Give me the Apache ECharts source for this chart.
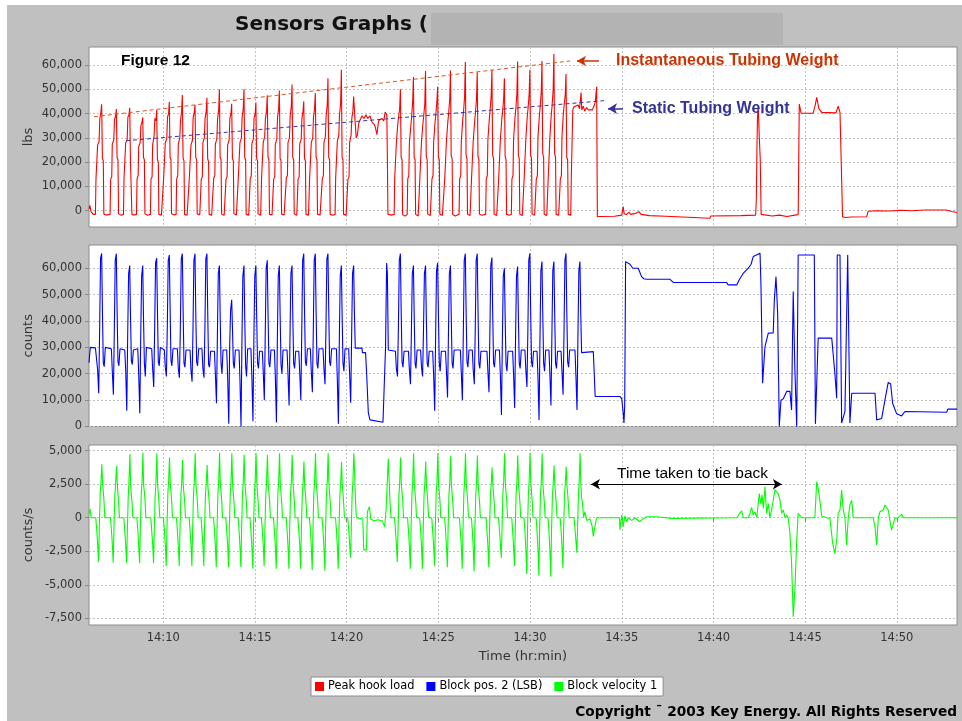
<!DOCTYPE html>
<html>
<head>
<meta charset="utf-8">
<title>Sensors Graphs</title>
<script src="https://cdn.jsdelivr.net/npm/echarts@6/dist/echarts.min.js"></script>
<style>
  html, body { margin: 0; padding: 0; background: #ffffff; }
  #frame { position: absolute; left: 7px; top: 5px; width: 955px; height: 716px; background: #c0c0c0; }
  #chart { position: absolute; left: 0; top: 0; width: 962px; height: 721px; }
</style>
</head>
<body>
<div id="frame"></div>
<div id="chart"></div>
<script>
// Time is expressed in minutes past 14:00.
const xTickMinutes = [10, 15, 20, 25, 30, 35, 40, 45, 50];
const hookLoadTicks = [0, 10000, 20000, 30000, 40000, 50000, 60000];
const blockPosTicks = [0, 10000, 20000, 30000, 40000, 50000, 60000];
const velocityTicks = [-7500, -5000, -2500, 0, 2500, 5000];

const seriesNames = ['Peak hook load', 'Block pos. 2 (LSB)', 'Block velocity 1'];

// Peak hook load (lbs)
const hookLoad = [
  [5.95,800],[6.00,2200],[6.06,-400],[6.18,-1500],
  [6.30,-1500],[6.33,13000],[6.39,13500],[6.42,27000],[6.50,28500],[6.54,38000],[6.60,40500],[6.64,43800],[6.68,21500],[6.73,20500],[6.76,-1400],[6.90,-1800],
  [7.10,-1500],[7.13,13000],[7.19,14000],[7.22,27500],[7.30,29000],[7.34,37500],[7.40,39000],[7.44,41900],[7.48,22000],[7.53,21000],[7.56,-1200],[7.70,-1900],
  [7.83,-1500],[7.86,13500],[7.92,14000],[7.95,28000],[8.03,29000],[8.07,38500],[8.13,39500],[8.17,42400],[8.21,21000],[8.26,20500],[8.29,-1500],[8.43,-1800],
  [8.54,-1500],[8.57,13000],[8.63,14500],[8.66,26500],[8.74,28000],[8.78,35000],[8.84,36500],[8.88,38400],[8.92,22000],[8.97,21000],[9.00,-1300],[9.14,-1900],
  [9.30,-1500],[9.33,13000],[9.39,14000],[9.42,27000],[9.50,31000],[9.54,38000],[9.60,37000],[9.64,41500],[9.68,21000],[9.73,20000],[9.76,-1500],[9.90,-1800],
  [9.99,-1500],[10.02,13500],[10.08,14000],[10.11,28000],[10.19,29500],[10.23,38500],[10.29,40000],[10.33,44800],[10.37,22000],[10.42,21000],[10.45,-1200],[10.59,-1800],
  [10.70,-1500],[10.73,13000],[10.79,14500],[10.82,27500],[10.90,30000],[10.94,37000],[11.00,41000],[11.04,47600],[11.08,21500],[11.13,20500],[11.16,-1500],[11.30,-1900],
  [11.39,-1500],[11.42,13500],[11.48,14000],[11.51,27000],[11.59,29000],[11.63,38500],[11.69,40500],[11.73,43500],[11.77,22000],[11.82,21000],[11.85,-1300],[11.99,-1700],
  [12.04,-1500],[12.07,13000],[12.13,14000],[12.16,28000],[12.24,30000],[12.28,38000],[12.34,41000],[12.38,46500],[12.42,21500],[12.47,20000],[12.50,-1500],[12.64,-1800],
  [12.72,-1500],[12.75,13500],[12.81,14500],[12.84,27500],[12.92,29500],[12.96,37500],[13.02,41500],[13.06,50000],[13.10,22000],[13.15,21000],[13.18,-1400],[13.32,-1900],
  [13.39,-1500],[13.42,13000],[13.48,14000],[13.51,27000],[13.59,29000],[13.63,38000],[13.69,40000],[13.73,44000],[13.77,21500],[13.82,20500],[13.85,-1200],[13.99,-1800],
  [14.06,-1500],[14.09,13500],[14.15,14000],[14.18,28000],[14.26,30000],[14.30,38500],[14.36,42000],[14.40,50000],[14.44,22000],[14.49,21000],[14.52,-1500],[14.66,-1800],
  [14.71,-1500],[14.74,13000],[14.80,14500],[14.83,27500],[14.91,29500],[14.95,38000],[15.01,40000],[15.05,44500],[15.09,21500],[15.14,20500],[15.17,-1300],[15.31,-1900],
  [15.33,-1500],[15.36,13500],[15.42,14000],[15.45,28000],[15.53,30500],[15.57,38000],[15.63,41000],[15.67,47500],[15.71,22000],[15.76,21000],[15.79,-1500],[15.93,-1700],
  [15.99,-1500],[16.02,13000],[16.08,14000],[16.11,27500],[16.19,29500],[16.23,38500],[16.29,42000],[16.33,49500],[16.37,21500],[16.42,20500],[16.45,-1400],[16.59,-1800],
  [16.68,-1500],[16.71,13500],[16.77,14500],[16.80,28000],[16.88,30000],[16.92,39000],[16.98,43000],[17.02,52000],[17.06,22000],[17.11,21000],[17.14,-1300],[17.28,-1900],
  [17.32,-1500],[17.35,13000],[17.41,14000],[17.44,27500],[17.52,29500],[17.56,38000],[17.62,41000],[17.66,45000],[17.70,21500],[17.75,20500],[17.78,-1500],[17.92,-1800],
  [17.95,-1500],[17.98,13500],[18.04,14000],[18.07,28000],[18.15,30000],[18.19,38500],[18.25,42000],[18.29,48500],[18.33,22000],[18.38,21000],[18.41,-1400],[18.55,-1800],
  [18.64,-1500],[18.67,13000],[18.73,14500],[18.76,28000],[18.84,30500],[18.88,39000],[18.94,43500],[18.98,54500],[19.02,22000],[19.07,21000],[19.10,-1500],[19.24,-1900],
  [19.37,-1500],[19.40,13500],[19.46,14000],[19.49,28500],[19.57,31000],[19.61,39500],[19.67,44000],[19.71,58000],[19.75,22000],[19.80,21000],[19.83,-1500],[19.97,-1800],
  [20.04,-1500],[20.07,13000],[20.13,14000],[20.16,28000],[20.24,31000],[20.28,38000],[20.34,41000],[20.38,47000],
  [20.45,38000],[20.52,30000],[20.58,31000],[20.66,36000],[20.74,37500],[20.83,39000],[20.95,38000],[21.05,39500],[21.15,38000],[21.27,39000],
  [21.38,36500],[21.50,35500],[21.56,34500],[21.65,31300],[21.74,37000],[21.92,38000],[22.02,37000],[22.10,40600],[22.19,39500],[22.22,21000],[22.25,-1500],[22.45,-1800],
  [22.59,-1500],[22.62,13500],[22.68,14000],[22.71,28000],[22.79,36000],[22.83,38500],[22.89,42000],[22.93,50000],[22.97,22000],[23.02,21000],[23.05,-1600],[23.19,-2200],
  [23.30,-1500],[23.33,13000],[23.39,14500],[23.42,28000],[23.50,35000],[23.54,38500],[23.60,45000],[23.64,55000],[23.68,22000],[23.73,21000],[23.76,-1500],[23.90,-2200],
  [23.96,-1500],[23.99,13500],[24.05,14000],[24.08,28500],[24.16,36000],[24.20,39000],[24.26,44000],[24.30,57500],[24.34,22500],[24.39,21000],[24.42,-1400],[24.56,-2000],
  [24.62,-1500],[24.65,13000],[24.71,14500],[24.74,28000],[24.82,36500],[24.86,39500],[24.92,45000],[24.96,51000],[25.00,22000],[25.05,21000],[25.08,-1500],[25.22,-1900],
  [25.32,-1500],[25.35,13500],[25.41,14000],[25.44,28500],[25.52,37000],[25.56,40000],[25.62,46000],[25.66,57700],[25.70,22500],[25.75,21500],[25.78,-1500],[25.92,-2200],
  [26.13,-1500],[26.16,13000],[26.22,14500],[26.25,28500],[26.33,37500],[26.37,40500],[26.43,47000],[26.47,61200],[26.51,23000],[26.56,21500],[26.59,-1500],[26.73,-2000],
  [26.78,-1500],[26.81,13500],[26.87,14000],[26.90,28500],[26.98,37000],[27.02,40000],[27.08,46000],[27.12,57000],[27.16,22500],[27.21,21000],[27.24,-1400],[27.38,-1900],
  [27.58,-1500],[27.61,13000],[27.67,14500],[27.70,29000],[27.78,38000],[27.82,41000],[27.88,47500],[27.92,58000],[27.96,23000],[28.01,21500],[28.04,-1500],[28.18,-2000],
  [28.26,-1500],[28.29,13500],[28.35,14000],[28.38,29000],[28.46,38000],[28.50,40500],[28.56,46000],[28.60,54500],[28.64,22500],[28.69,21000],[28.72,-1500],[28.86,-1900],
  [28.98,-1500],[29.01,13000],[29.07,14500],[29.10,29500],[29.18,38500],[29.22,41500],[29.28,48000],[29.32,61400],[29.36,23000],[29.41,21500],[29.44,-1500],[29.58,-2000],
  [29.65,-1500],[29.68,13500],[29.74,14000],[29.77,29500],[29.85,39000],[29.89,42000],[29.95,48000],[29.99,58000],[30.03,23000],[30.08,21500],[30.11,-1400],[30.25,-1900],
  [30.31,-1500],[30.34,13000],[30.40,14500],[30.43,30000],[30.51,39500],[30.55,42500],[30.61,49000],[30.65,61600],[30.69,23500],[30.74,22000],[30.77,-1500],[30.91,-2000],
  [30.96,-1500],[30.99,13500],[31.05,14000],[31.08,30000],[31.16,40000],[31.20,43000],[31.26,50000],[31.30,64500],[31.34,23500],[31.39,22000],[31.42,-1500],[31.56,-1900],
  [31.62,-1500],[31.65,13000],[31.71,14500],[31.74,30500],[31.82,40500],[31.86,43500],[31.92,48000],[31.96,56300],[32.00,22000],[32.05,21000],[32.08,-1500],[32.22,-1800],
  [32.25,14000],[32.29,28000],[32.33,41500],[32.40,42800],[32.50,42500],[32.62,43500],[32.70,42000],[32.78,48700],[32.82,41500],[32.90,43000],[32.98,41000],
  [33.08,42500],[33.18,41500],[33.28,42000],[33.40,41500],[33.48,43000],[33.55,44500],[33.63,51000],[33.67,-2500],
  [33.80,-2400],[34.60,-2300],[35.00,-1800],[35.08,1700],[35.13,-1200],[35.25,-1600],[35.40,-600],[35.48,-1500],[35.70,-1200],[35.94,-400],[36.05,-1500],
  [36.50,-2000],[37.40,-2300],[37.45,-3100],[39.81,-3100],[39.85,-2200],[41.50,-2000],[42.30,-1800],[42.34,5000],[42.37,25000],[42.40,38000],[42.44,43100],
  [42.50,30000],[42.55,21500],[42.60,-1500],[43.20,-2200],[43.60,-1800],[44.00,-2400],[44.62,-1600],[44.68,43900],[44.73,42000],[44.78,40100],[45.43,40100],
  [45.55,43500],[45.63,46700],[45.75,42000],[45.90,40500],[46.68,40300],[46.80,43000],[46.90,40500],[46.96,40000],[47.04,-2500],[47.20,-2800],[47.50,-2600],
  [48.35,-2500],[48.44,-200],[48.90,0],[49.00,300],[49.60,-100],[50.20,200],[50.80,0],[51.50,300],[52.70,300],[52.75,-500],[53.00,-300],[53.28,-700]
];

// Block position 2 (counts)
const blockPos = [
  [5.95,24200],[6.02,30000],[6.30,29800],
  [6.37,29500],[6.42,21500],[6.48,12600],[6.53,36600],[6.58,63800],[6.64,65600],[6.68,44800],[6.73,24000],[6.78,22700],[6.84,30000],
  [7.17,29500],[7.22,21000],[7.28,12000],[7.33,36000],[7.38,63000],[7.44,65500],[7.48,45000],[7.53,24500],[7.58,23000],[7.64,29500],
  [7.90,29000],[7.95,21500],[8.01,6000],[8.06,35000],[8.11,58000],[8.17,61000],[8.21,43000],[8.26,25000],[8.31,23500],[8.37,29000],
  [8.61,29500],[8.66,20000],[8.72,5000],[8.77,34000],[8.82,57000],[8.88,61000],[8.92,42000],[8.97,24000],[9.02,19000],[9.08,30000],
  [9.37,29500],[9.42,22000],[9.48,15000],[9.53,37000],[9.58,62000],[9.64,63800],[9.68,45000],[9.73,24500],[9.78,23000],[9.84,30000],
  [10.06,29000],[10.11,22500],[10.17,19000],[10.22,38000],[10.27,63000],[10.33,65000],[10.37,46000],[10.42,25000],[10.47,23000],[10.53,29500],
  [10.77,29500],[10.82,22000],[10.88,18500],[10.93,37000],[10.98,63500],[11.04,65500],[11.08,45000],[11.13,24000],[11.18,22500],[11.24,29000],
  [11.46,29000],[11.51,21500],[11.57,17000],[11.62,36500],[11.67,63000],[11.73,65500],[11.77,44000],[11.82,24500],[11.87,23000],[11.93,29500],
  [12.11,29500],[12.16,22000],[12.22,18500],[12.27,37000],[12.32,63500],[12.38,65500],[12.42,45000],[12.47,23500],[12.52,22500],[12.58,28500],
  [12.79,28500],[12.84,20000],[12.90,8800],[12.95,34000],[13.00,58000],[13.06,61000],[13.10,43000],[13.15,24000],[13.20,20000],[13.26,29000],
  [13.46,29000],[13.51,19000],[13.57,1000],[13.62,30000],[13.67,44000],[13.73,48000],[13.77,38000],[13.82,24000],[13.87,22000],[13.93,29000],
  [14.13,29000],[14.18,18000],[14.24,0],[14.29,33000],[14.34,57000],[14.40,61000],[14.44,42000],[14.49,23000],[14.54,19000],[14.60,29500],
  [14.78,29500],[14.83,19000],[14.89,2000],[14.94,33000],[14.99,57000],[15.05,61000],[15.09,43000],[15.14,24000],[15.19,22000],[15.25,28500],
  [15.40,28500],[15.45,21000],[15.51,10000],[15.56,35000],[15.61,60000],[15.67,63000],[15.71,44000],[15.76,24000],[15.81,22500],[15.87,29000],
  [16.06,29000],[16.11,19000],[16.17,1500],[16.22,33000],[16.27,57000],[16.33,61000],[16.37,43000],[16.42,23500],[16.47,20000],[16.53,29000],
  [16.75,29000],[16.80,20000],[16.86,8000],[16.91,34000],[16.96,58000],[17.02,61000],[17.06,43000],[17.11,24000],[17.16,22000],[17.22,28500],
  [17.39,28500],[17.44,20500],[17.50,10000],[17.55,35000],[17.60,63000],[17.66,65500],[17.70,45000],[17.75,24500],[17.80,23000],[17.86,29500],
  [18.02,29500],[18.07,21000],[18.13,13000],[18.18,36000],[18.23,63000],[18.29,65500],[18.33,45000],[18.38,24000],[18.43,22000],[18.49,29500],
  [18.71,29500],[18.76,22000],[18.82,16000],[18.87,37000],[18.92,63500],[18.98,65500],[19.02,45000],[19.07,24500],[19.12,23000],[19.18,29500],
  [19.44,29500],[19.49,18000],[19.55,1000],[19.60,33000],[19.65,57000],[19.71,61000],[19.75,43000],[19.80,24000],[19.85,21000],[19.91,29500],
  [20.11,29500],[20.16,20000],[20.22,9000],[20.27,34000],[20.32,58000],[20.38,61000],[20.42,44000],[20.47,29700],[20.83,29700],[20.86,28000],
  [21.03,28000],[21.09,20000],[21.18,5300],[21.27,2500],[21.33,1900],[21.98,1600],[22.07,1000],[22.12,30000],[22.18,62000],[22.22,58000],[22.27,29000],[22.35,28500],
  [22.66,28500],[22.71,22000],[22.77,19000],[22.82,37000],[22.87,63000],[22.93,65500],[22.97,45000],[23.02,24500],[23.07,22500],[23.13,28500],
  [23.37,28500],[23.42,21500],[23.48,16000],[23.53,36000],[23.58,58000],[23.64,61000],[23.68,43000],[23.73,24000],[23.78,22000],[23.84,29000],
  [24.03,29000],[24.08,22500],[24.14,19000],[24.19,37000],[24.24,58000],[24.30,61000],[24.34,43000],[24.39,24000],[24.44,22500],[24.50,28500],
  [24.69,28500],[24.74,20000],[24.80,6000],[24.85,34000],[24.90,59000],[24.96,62000],[25.00,44000],[25.05,24000],[25.10,21000],[25.16,28500],
  [25.39,28500],[25.44,21000],[25.50,11000],[25.55,35000],[25.60,58000],[25.66,61000],[25.70,43000],[25.75,24000],[25.80,22000],[25.86,29000],
  [26.20,29000],[26.25,20500],[26.31,10000],[26.36,35000],[26.41,63000],[26.47,65500],[26.51,45000],[26.56,24500],[26.61,22500],[26.67,29000],
  [26.85,29000],[26.90,21500],[26.96,16000],[27.01,36000],[27.06,63000],[27.12,65500],[27.16,45000],[27.21,24000],[27.26,22000],[27.32,28500],
  [27.65,28500],[27.70,21000],[27.76,13000],[27.81,36000],[27.86,61000],[27.92,64000],[27.96,44000],[28.01,24000],[28.06,22500],[28.12,29000],
  [28.33,29000],[28.38,19500],[28.44,4400],[28.49,33000],[28.54,57000],[28.60,60000],[28.64,42000],[28.69,23500],[28.74,21000],[28.80,28500],
  [29.05,28500],[29.10,20000],[29.16,7000],[29.21,34000],[29.26,57000],[29.32,60600],[29.36,43000],[29.41,24000],[29.46,22000],[29.52,29000],
  [29.72,29000],[29.77,21500],[29.83,15000],[29.88,36000],[29.93,63000],[29.99,65600],[30.03,45000],[30.08,24500],[30.13,22500],[30.19,28500],
  [30.38,28500],[30.43,19000],[30.49,2500],[30.54,33000],[30.59,59000],[30.65,62500],[30.69,44000],[30.74,24000],[30.79,21000],[30.85,29000],
  [31.03,29000],[31.08,20000],[31.14,8000],[31.19,34000],[31.24,59000],[31.30,62500],[31.34,44000],[31.39,24000],[31.44,22000],[31.50,28500],
  [31.69,28500],[31.74,21000],[31.80,12000],[31.85,35000],[31.90,63000],[31.96,65600],[32.00,45000],[32.05,24500],[32.10,22500],[32.16,29000],
  [32.45,29000],[32.50,19500],[32.56,6300],[32.61,34000],[32.66,59000],[32.72,62500],[32.76,44000],[32.81,28000],[32.88,28400],[33.45,28400],
  [33.50,20000],[33.55,11400],[34.90,11400],[35.00,10500],[35.08,5000],[35.12,1300],[35.16,8000],[35.21,62500],[35.30,62000],[35.45,61500],
  [35.60,60000],[35.90,60000],[36.08,56800],[36.20,56000],[36.36,55800],[37.63,55800],[37.81,54600],[40.72,54600],[40.79,53700],[41.28,53700],
  [41.40,55500],[41.62,58000],[41.90,60000],[42.05,61500],[42.17,64400],[42.54,65700],[42.59,53700],[42.68,16400],[42.75,16000],[42.81,30300],
  [42.99,35400],[43.26,35500],[43.32,48000],[43.41,56800],[43.50,43000],[43.59,0],[43.68,10000],[43.81,10500],[43.99,13300],[44.17,13300],
  [44.26,6300],[44.30,27800],[44.35,51200],[44.44,21500],[44.54,0],[44.62,65000],[45.50,65000],[45.56,1000],[45.71,33500],[46.45,33500],
  [46.62,20200],[46.72,10700],[46.75,65000],[46.90,65000],[46.99,1300],[47.17,5700],[47.32,65000],[47.44,1300],[47.54,12600],[48.81,12600],
  [48.90,2500],[49.17,3000],[49.35,10000],[49.53,16700],[49.66,16200],[49.77,8800],[49.99,4800],[50.26,4000],[50.44,5700],[50.53,5400],
  [52.72,5400],[52.78,6600],[53.28,6600]
];

// Block velocity 1 (counts/s)
const blockVelocity = [
  [5.95,300],[5.98,450],[6.02,650],[6.06,0],
  [6.32,0],[6.37,-900],[6.42,-1900],[6.47,-3300],[6.51,-900],[6.56,1800],[6.60,2600],[6.65,3980],[6.69,2560],[6.73,1940],[6.77,1200],[6.81,0],
  [7.12,0],[7.17,-900],[7.22,-1900],[7.27,-3350],[7.31,-900],[7.36,1700],[7.40,2500],[7.45,3860],[7.49,2600],[7.53,1800],[7.57,1000],[7.61,0],
  [7.85,0],[7.90,-1000],[7.95,-2000],[8.00,-3350],[8.04,-1000],[8.09,1600],[8.13,2700],[8.18,4750],[8.22,2500],[8.26,1700],[8.30,1100],[8.34,0],
  [8.56,0],[8.61,-900],[8.66,-2100],[8.71,-3400],[8.75,-800],[8.80,1800],[8.84,2600],[8.89,4850],[8.93,2400],[8.97,1900],[9.01,1200],[9.05,0],
  [9.32,0],[9.37,-1000],[9.42,-1900],[9.47,-3400],[9.51,-900],[9.56,1700],[9.60,2600],[9.65,4800],[9.69,2500],[9.73,1800],[9.77,1000],[9.81,0],
  [10.01,0],[10.06,-900],[10.11,-2000],[10.16,-3600],[10.20,-900],[10.25,1800],[10.29,2700],[10.34,4500],[10.38,2600],[10.42,1900],[10.46,1200],[10.50,0],
  [10.72,0],[10.77,-1000],[10.82,-2100],[10.87,-3600],[10.91,-1000],[10.96,1700],[11.00,2500],[11.05,4300],[11.09,2400],[11.13,1800],[11.17,1100],[11.21,0],
  [11.41,0],[11.46,-900],[11.51,-2000],[11.56,-3600],[11.60,-900],[11.65,1800],[11.69,2600],[11.74,4800],[11.78,2500],[11.82,1900],[11.86,1200],[11.90,0],
  [12.06,0],[12.11,-1000],[12.16,-2000],[12.21,-3600],[12.25,-800],[12.30,1700],[12.34,2500],[12.39,3930],[12.43,2400],[12.47,1800],[12.51,1000],[12.55,0],
  [12.74,0],[12.79,-900],[12.84,-2100],[12.89,-3700],[12.93,-900],[12.98,1800],[13.02,2700],[13.07,4850],[13.11,2600],[13.15,1900],[13.19,1200],[13.23,0],
  [13.41,0],[13.46,-1000],[13.51,-2000],[13.56,-3700],[13.60,-900],[13.65,1700],[13.69,2600],[13.74,4800],[13.78,2500],[13.82,1800],[13.86,1100],[13.90,0],
  [14.08,0],[14.13,-900],[14.18,-2100],[14.23,-3700],[14.27,-1000],[14.32,1800],[14.36,2600],[14.41,4700],[14.45,2500],[14.49,1900],[14.53,1200],[14.57,0],
  [14.73,0],[14.78,-1000],[14.83,-2100],[14.88,-3800],[14.92,-900],[14.97,1800],[15.01,2700],[15.06,4800],[15.10,2600],[15.14,1800],[15.18,1100],[15.22,0],
  [15.35,0],[15.40,-900],[15.45,-2000],[15.50,-3600],[15.54,-900],[15.59,1700],[15.63,2600],[15.68,4700],[15.72,2500],[15.76,1900],[15.80,1200],[15.84,0],
  [16.01,0],[16.06,-1000],[16.11,-2100],[16.16,-3800],[16.20,-1000],[16.25,1800],[16.29,2700],[16.34,4800],[16.38,2500],[16.42,1800],[16.46,1100],[16.50,0],
  [16.70,0],[16.75,-900],[16.80,-2100],[16.85,-3800],[16.89,-900],[16.94,1800],[16.98,2600],[17.03,4700],[17.07,2600],[17.11,1900],[17.15,1200],[17.19,0],
  [17.34,0],[17.39,-1000],[17.44,-2000],[17.49,-3800],[17.53,-900],[17.58,1700],[17.62,2500],[17.67,4200],[17.71,2400],[17.75,1800],[17.79,1000],[17.83,0],
  [17.97,0],[18.02,-900],[18.07,-2100],[18.12,-3900],[18.16,-1000],[18.21,1800],[18.25,2700],[18.30,4800],[18.34,2600],[18.38,1900],[18.42,1200],[18.46,0],
  [18.66,0],[18.71,-1000],[18.76,-2200],[18.81,-3950],[18.85,-900],[18.90,1800],[18.94,2600],[18.99,4800],[19.03,2500],[19.07,1800],[19.11,1100],[19.15,0],
  [19.39,0],[19.44,-900],[19.49,-2100],[19.54,-3800],[19.58,-900],[19.63,1700],[19.67,2500],[19.72,4150],[19.76,2400],[19.80,1800],[19.84,1000],[19.88,0],
  [20.06,0],[20.11,-900],[20.16,-1900],[20.21,-3000],[20.25,-900],[20.30,1800],[20.34,2600],[20.39,4800],
  [20.43,3560],[20.48,1320],[20.53,0],[20.88,-100],[20.93,-2400],[21.08,-2400],[21.13,450],[21.24,820],[21.31,-100],[21.50,-250],[21.70,-150],
  [21.95,-250],[22.07,-670],[22.15,600],[22.21,2500],[22.27,4400],[22.31,3000],[22.36,1300],[22.42,0],
  [22.61,0],[22.66,-900],[22.71,-2000],[22.76,-3300],[22.80,-900],[22.85,1700],[22.89,2600],[22.94,4500],[22.98,2500],[23.02,1900],[23.06,1200],[23.10,0],
  [23.32,0],[23.37,-1000],[23.42,-2100],[23.47,-3800],[23.51,-900],[23.56,1800],[23.60,2700],[23.65,4800],[23.69,2600],[23.73,1800],[23.77,1100],[23.81,0],
  [23.98,0],[24.03,-900],[24.08,-2100],[24.13,-3800],[24.17,-1000],[24.22,1700],[24.26,2500],[24.31,4200],[24.35,2400],[24.39,1800],[24.43,1000],[24.47,0],
  [24.64,0],[24.69,-1000],[24.74,-2000],[24.79,-3600],[24.83,-900],[24.88,1800],[24.92,2600],[24.97,4800],[25.01,2500],[25.05,1900],[25.09,1200],[25.13,0],
  [25.34,0],[25.39,-900],[25.44,-2100],[25.49,-3700],[25.53,-900],[25.58,1800],[25.62,2600],[25.67,4600],[25.71,2500],[25.75,1800],[25.79,1100],[25.83,0],
  [26.15,0],[26.20,-1000],[26.25,-2100],[26.30,-3800],[26.34,-1000],[26.39,1800],[26.43,2700],[26.48,4800],[26.52,2600],[26.56,1900],[26.60,1200],[26.64,0],
  [26.80,0],[26.85,-900],[26.90,-2200],[26.95,-4000],[26.99,-900],[27.04,1700],[27.08,2600],[27.13,4650],[27.17,2500],[27.21,1800],[27.25,1100],[27.29,0],
  [27.60,0],[27.65,-1000],[27.70,-2100],[27.75,-3700],[27.79,-900],[27.84,1700],[27.88,2500],[27.93,3750],[27.97,2400],[28.01,1800],[28.05,1000],[28.09,0],
  [28.28,0],[28.33,-900],[28.38,-1900],[28.43,-3000],[28.47,-900],[28.52,1800],[28.56,2700],[28.61,4800],[28.65,2600],[28.69,1900],[28.73,1200],[28.77,0],
  [29.00,0],[29.05,-1000],[29.10,-2100],[29.15,-3600],[29.19,-900],[29.24,1800],[29.28,2600],[29.33,4650],[29.37,2500],[29.41,1800],[29.45,1100],[29.49,0],
  [29.67,0],[29.72,-1000],[29.77,-2300],[29.82,-4200],[29.86,-1000],[29.91,1800],[29.95,2700],[30.00,4850],[30.04,2600],[30.08,1900],[30.12,1200],[30.16,0],
  [30.33,0],[30.38,-1000],[30.43,-2300],[30.48,-4300],[30.52,-1000],[30.57,1800],[30.61,2600],[30.66,4800],[30.70,2500],[30.74,1800],[30.78,1100],[30.82,0],
  [30.98,0],[31.03,-1000],[31.08,-2400],[31.13,-4400],[31.17,-1000],[31.22,1700],[31.26,2500],[31.31,3900],[31.35,2400],[31.39,1800],[31.43,1000],[31.47,0],
  [31.64,0],[31.69,-900],[31.74,-2100],[31.79,-3750],[31.83,-900],[31.88,1700],[31.92,2500],[31.97,3800],[32.01,2400],[32.05,1800],[32.09,1000],[32.13,0],
  [32.40,0],[32.45,-800],[32.50,-1700],[32.55,-2600],[32.59,-800],[32.64,1800],[32.68,2700],[32.73,4800],[32.77,2500],[32.81,1500],[32.85,1200],[32.92,0],
  [32.99,450],[33.09,-200],[33.27,-100],[33.38,-600],[33.45,-1400],[33.50,-1000],[33.54,-600],[33.63,0],[34.88,0],[34.90,-920],[35.00,200],
  [35.08,-670],[35.17,130],[35.27,-300],[35.35,0],[35.54,-200],[35.72,0],[35.99,-300],[36.17,-70],[36.36,75],[36.90,75],[37.00,0],[37.72,-50],
  [37.80,0],[41.27,0],[41.45,370],[41.54,520],[41.62,0],[41.90,0],[41.99,300],[42.08,770],[42.17,200],[42.26,450],[42.36,0],[42.50,1800],
  [42.58,1050],[42.65,1700],[42.72,700],[42.81,2300],[42.90,330],[42.99,1050],[43.08,0],[43.17,580],[43.26,1300],[43.35,2100],[43.45,2100],
  [43.53,1800],[43.63,1300],[43.72,330],[43.81,580],[43.90,0],[43.99,200],[44.08,-60],[44.17,-1170],[44.26,-3400],[44.35,-7390],[44.44,-5400],
  [44.54,-1700],[44.62,330],[44.72,450],[44.81,0],[45.53,0],[45.63,2690],[45.71,2190],[45.81,1200],[45.90,130],[46.17,0],[46.35,-50],
  [46.50,-1900],[46.62,-2660],[46.72,-1700],[46.80,330],[46.90,580],[46.99,2060],[47.08,580],[47.17,0],[47.26,-2040],[47.35,0],[47.44,950],
  [47.54,1300],[47.62,0],[48.71,0],[48.81,-700],[48.90,-2040],[48.99,0],[49.08,450],[49.26,580],[49.35,950],[49.44,1000],[49.53,580],
  [49.62,-170],[49.71,-920],[49.80,-800],[49.89,-50],[49.99,-170],[50.08,0],[50.26,270],[50.35,0],[53.28,0]
];

// Trend guides drawn over the hook-load panel
const instantaneousTrend = [[6.22, 38700], [32.18, 61650]];
const staticTrend = [[7.97, 28830], [34.03, 45300]];
const instantaneousPointer = [[33.76, 61650], [32.56, 61650]];
const staticPointer = [[35.07, 42000], [34.25, 42000]];
const tieBackSpan = [[33.32, 2500], [43.73, 2500]];

const X_MIN = 5.95, X_MAX = 53.28;
const FONT = '"DejaVu Sans", sans-serif';
const ARIAL = '"Liberation Sans", Arial, sans-serif';

const grids = [
  { left: 89, top: 47, width: 868, height: 180 },
  { left: 89, top: 245, width: 868, height: 181.5 },
  { left: 89, top: 445, width: 868, height: 180 }
].map(g => Object.assign(g, {
  show: true, backgroundColor: '#ffffff', borderColor: '#8c8c8c', borderWidth: 1, containLabel: false
}));

const gridLine = { show: true, lineStyle: { color: '#c2c2c2', width: 1, type: [2, 2] } };

function pad2(v) { return (v < 10 ? '0' : '') + v; }

function xAxisFor(gridIndex, withLabels) {
  return {
    type: 'value', gridIndex: gridIndex, min: X_MIN, max: X_MAX,
    axisLine: { show: false },
    axisTick: { show: withLabels, customValues: xTickMinutes, length: 4, lineStyle: { color: '#888' } },
    axisLabel: {
      show: withLabels, customValues: xTickMinutes, margin: 7,
      formatter: v => '14:' + pad2(Math.round(v)),
      color: '#333', fontSize: 11.5, fontFamily: FONT
    },
    splitLine: gridLine,
    name: withLabels ? 'Time (hr:min)' : '',
    nameLocation: 'middle', nameGap: 25, nameMoveOverlap: false,
    nameTextStyle: { color: '#333', fontSize: 13, fontFamily: FONT }
  };
}

function yAxisFor(gridIndex, min, max, ticks, name) {
  return {
    type: 'value', gridIndex: gridIndex, min: min, max: max,
    axisLine: { show: false },
    axisTick: { show: true, customValues: ticks, length: 4, lineStyle: { color: '#888' } },
    axisLabel: {
      customValues: ticks, margin: 7,
      formatter: v => v.toLocaleString('en-US'),
      color: '#333', fontSize: 11.5, fontFamily: FONT
    },
    splitLine: gridLine,
    name: name, nameLocation: 'middle', nameGap: 54, nameMoveOverlap: false,
    nameTextStyle: { color: '#333', fontSize: 13, fontFamily: FONT }
  };
}

function pointer(points, color) {
  return {
    silent: true, animation: false,
    symbol: ['none', 'arrow'], symbolSize: [8, 9],
    label: { show: false },
    lineStyle: { color: color, width: 1.5, type: 'solid' },
    emphasis: { disabled: true },
    data: [[{ coord: points[0] }, { coord: points[1] }]]
  };
}

const option = {
  animation: false,
  textStyle: { fontFamily: FONT },
  grid: grids,
  xAxis: [xAxisFor(0, false), xAxisFor(1, false), xAxisFor(2, true)],
  yAxis: [
    yAxisFor(0, -6700, 67400, hookLoadTicks, 'lbs'),
    yAxisFor(1, 0, 68800, blockPosTicks, 'counts'),
    yAxisFor(2, -8000, 5425, velocityTicks, 'counts/s')
  ],
  legend: {
    data: seriesNames,
    left: 311, top: 677,
    icon: 'rect', itemWidth: 9, itemHeight: 9, itemGap: 12,
    backgroundColor: '#ffffff', borderColor: '#8c8c8c', borderWidth: 1, borderRadius: 0,
    padding: [4, 6, 4, 4],
    textStyle: { color: '#000', fontSize: 11.4, fontFamily: FONT, padding: [0, 0, 0, -1] },
    selectedMode: false
  },
  series: [
    {
      name: seriesNames[0], type: 'line', xAxisIndex: 0, yAxisIndex: 0,
      data: hookLoad, showSymbol: false, symbol: 'none', color: '#ff0000',
      lineStyle: { width: 1.1 }, z: 3
    },
    {
      name: seriesNames[1], type: 'line', xAxisIndex: 1, yAxisIndex: 1,
      data: blockPos, showSymbol: false, symbol: 'none', color: '#0000ff',
      lineStyle: { width: 1.1 }, z: 3
    },
    {
      name: seriesNames[2], type: 'line', xAxisIndex: 2, yAxisIndex: 2,
      data: blockVelocity, showSymbol: false, symbol: 'none', color: '#00ff00',
      lineStyle: { width: 1.1 }, z: 3,
      markLine: {
        silent: true, animation: false,
        symbol: ['arrow', 'arrow'], symbolSize: [8, 9],
        label: { show: false },
        lineStyle: { color: '#000', width: 1.2, type: 'solid' },
        emphasis: { disabled: true },
        data: [[{ coord: tieBackSpan[0] }, { coord: tieBackSpan[1] }]]
      }
    },
    {
      type: 'line', xAxisIndex: 0, yAxisIndex: 0, data: instantaneousTrend,
      showSymbol: false, symbol: 'none', silent: true, z: 4,
      lineStyle: { color: '#dd5522', width: 1, type: [4, 3] },
      markLine: pointer(instantaneousPointer, '#cc3300')
    },
    {
      type: 'line', xAxisIndex: 0, yAxisIndex: 0, data: staticTrend,
      showSymbol: false, symbol: 'none', silent: true, z: 4,
      lineStyle: { color: '#3333aa', width: 1, type: [4, 3] },
      markLine: pointer(staticPointer, '#333399')
    }
  ],
  graphic: [
    { type: 'text', z: 100, x: 235, y: 25,
      style: { text: 'Sensors Graphs (', font: 'bold 20px ' + FONT, fill: '#111',
               align: 'left', verticalAlign: 'middle', textAlign: 'left', textVerticalAlign: 'middle' } },
    { type: 'rect', z: 101, shape: { x: 431, y: 13, width: 352, height: 32 }, style: { fill: '#b3b3b3' } },
    { type: 'text', z: 100, x: 121, y: 61,
      style: { text: 'Figure 12', font: 'bold 15.5px ' + ARIAL, fill: '#000',
               align: 'left', verticalAlign: 'middle', textAlign: 'left', textVerticalAlign: 'middle' } },
    { type: 'text', z: 100, x: 616, y: 61,
      style: { text: 'Instantaneous Tubing Weight', font: 'bold 16px ' + ARIAL, fill: '#cc3300',
               align: 'left', verticalAlign: 'middle', textAlign: 'left', textVerticalAlign: 'middle' } },
    { type: 'text', z: 100, x: 632, y: 108.5,
      style: { text: 'Static Tubing Weight', font: 'bold 16px ' + ARIAL, fill: '#333399',
               align: 'left', verticalAlign: 'middle', textAlign: 'left', textVerticalAlign: 'middle' } },
    { type: 'text', z: 100, x: 617, y: 474,
      style: { text: 'Time taken to tie back', font: '15.5px ' + ARIAL, fill: '#000',
               align: 'left', verticalAlign: 'middle', textAlign: 'left', textVerticalAlign: 'middle' } },
    { type: 'text', z: 100, x: 957, y: 712,
      style: { text: 'Copyright \u00af 2003 Key Energy. All Rights Reserved', font: 'bold 13.7px ' + FONT, fill: '#000',
               align: 'right', verticalAlign: 'middle', textAlign: 'right', textVerticalAlign: 'middle' } }
  ]
};

const chart = echarts.init(document.getElementById('chart'), null, { renderer: 'canvas', width: 962, height: 721 });
chart.setOption(option);
</script>
</body>
</html>
